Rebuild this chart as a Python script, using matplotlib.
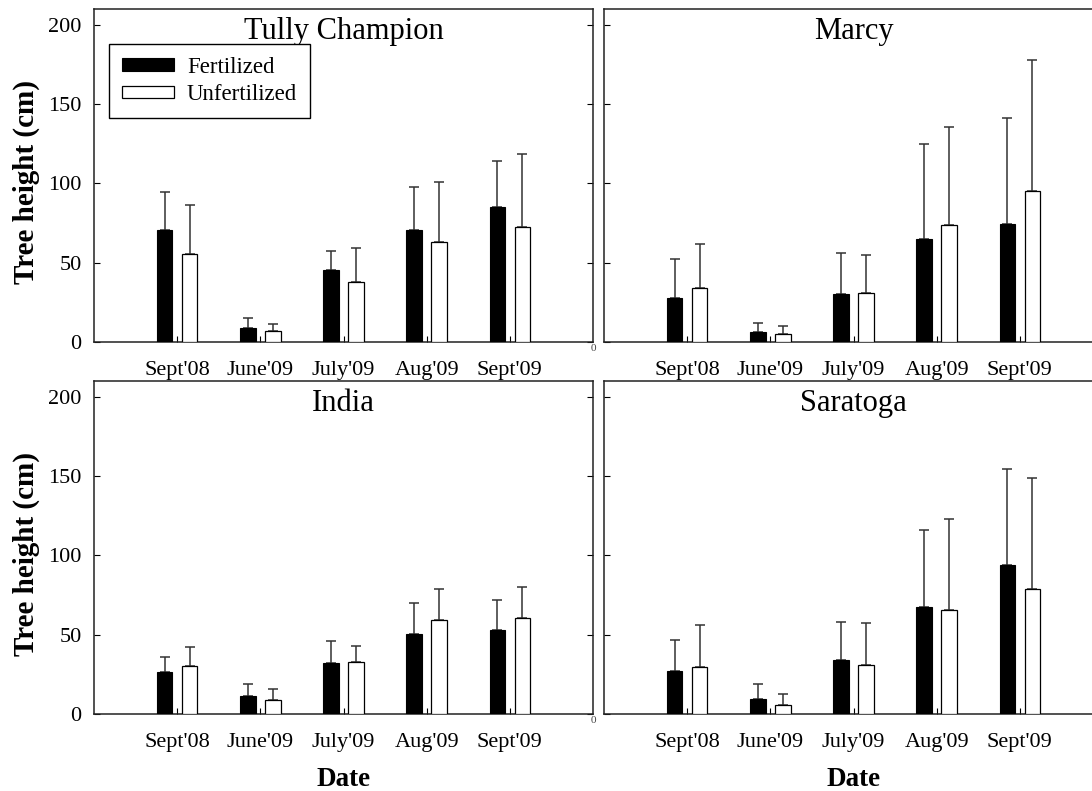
import numpy as np
import matplotlib
matplotlib.use('Agg')
from matplotlib import pyplot as plt

plt.rcParams['font.family'] = ['Liberation Serif', 'DejaVu Serif']

dates = ["Sept'08", "June'09", "July'09", "Aug'09", "Sept'09"]
sites = ['Tully Champion', 'Marcy', 'India', 'Saratoga']

# mean height and upper error (top of error bar) per site
fert_mean = {
    'Tully Champion': [70.7, 9.1, 45.3, 70.7, 85.1],
    'Marcy':          [28.0, 6.5, 30.5, 65.0, 74.7],
    'India':          [26.3, 11.3, 32.4, 50.6, 52.7],
    'Saratoga':       [26.9, 9.7, 34.0, 67.6, 94.1],
}
fert_top = {
    'Tully Champion': [94.7, 15.2, 57.5, 97.9, 114.1],
    'Marcy':          [52.6, 12.2, 56.4, 124.7, 141.1],
    'India':          [35.7, 18.7, 46.2, 69.7, 71.6],
    'Saratoga':       [46.4, 18.9, 57.8, 116.2, 154.2],
}
unfert_mean = {
    'Tully Champion': [55.8, 7.2, 38.1, 63.2, 72.6],
    'Marcy':          [34.1, 5.3, 30.9, 73.6, 95.5],
    'India':          [30.0, 8.8, 32.6, 59.0, 60.5],
    'Saratoga':       [29.4, 5.9, 30.7, 65.5, 78.6],
}
unfert_top = {
    'Tully Champion': [86.3, 11.4, 59.4, 100.6, 118.7],
    'Marcy':          [62.0, 10.1, 54.9, 135.9, 177.9],
    'India':          [42.0, 15.8, 42.6, 79.0, 80.3],
    'Saratoga':       [55.9, 12.6, 57.1, 122.7, 148.9],
}

W, H = 1092, 791
fig = plt.figure(figsize=(W / 100, H / 100), dpi=100)

# panel boxes in pixels: left, top, bottom
boxes = [(94, 9, 342), (604, 9, 342), (94, 381, 714), (604, 381, 714)]
pw = 499

x = np.arange(1, len(dates) + 1)
bw = 0.185
off = 0.15

for i, site in enumerate(sites):
    l, t, b = boxes[i]
    ax = fig.add_axes([l / W, 1 - b / H, pw / W, (b - t) / H])
    fm = np.array(fert_mean[site])
    um = np.array(unfert_mean[site])
    fe = np.array(fert_top[site]) - fm
    ue = np.array(unfert_top[site]) - um

    ax.bar(x - off, fm, bw, color='black', edgecolor='black', linewidth=0.8,
           label='Fertilized', zorder=3)
    ax.bar(x + off, um, bw, color='white', edgecolor='black', linewidth=0.9,
           label='Unfertilized', zorder=3)
    ax.errorbar(x - off, fm, yerr=[np.zeros_like(fe), fe], fmt='none',
                ecolor='#333333', elinewidth=1.1, capsize=3.5, capthick=1.1, zorder=2)
    ax.errorbar(x + off, um, yerr=[np.zeros_like(ue), ue], fmt='none',
                ecolor='#333333', elinewidth=1.1, capsize=3.5, capthick=1.1, zorder=2)

    ax.set_xlim(0, 6)
    ax.set_ylim(0, 210)
    ax.set_xticks(x)
    ax.set_xticklabels(dates, fontsize=16)
    ax.set_yticks([0, 50, 100, 150, 200])
    ax.tick_params(axis='x', direction='in', length=4, width=0.8, pad=14)
    ax.tick_params(axis='y', direction='in', length=4, width=0.8, pad=9,
                   labelsize=16, right=True)
    for s in ax.spines.values():
        s.set_linewidth(1.1)
        s.set_color('#222222')

    ax.text(0.5, 1 - 30 / 333, site, transform=ax.transAxes, ha='center',
            va='baseline', fontsize=22)

    if i % 2 == 0:
        ax.set_ylabel('Tree height (cm)', fontsize=21, fontweight='bold')
        ax.yaxis.set_label_coords(-0.108, 0.48)
        ax.text(1.0, -0.005, '0', transform=ax.transAxes, ha='center',
                va='top', fontsize=8, color='#444444')
    else:
        ax.tick_params(axis='y', labelleft=False)

    if i >= 2:
        ax.set_xlabel('Date', fontsize=19.5, fontweight='bold')
        ax.xaxis.set_label_coords(0.5, -0.16)

    if i == 0:
        leg = ax.legend(loc='upper left', bbox_to_anchor=(0.03, 0.895),
                        borderaxespad=0, fontsize=16.5, fancybox=False,
                        framealpha=1, edgecolor='black', handlelength=2.3,
                        handleheight=0.45, handletextpad=0.55, labelspacing=0.3,
                        borderpad=0.55)
        leg.get_frame().set_linewidth(1.0)

fig.savefig('out.png', dpi=100)
